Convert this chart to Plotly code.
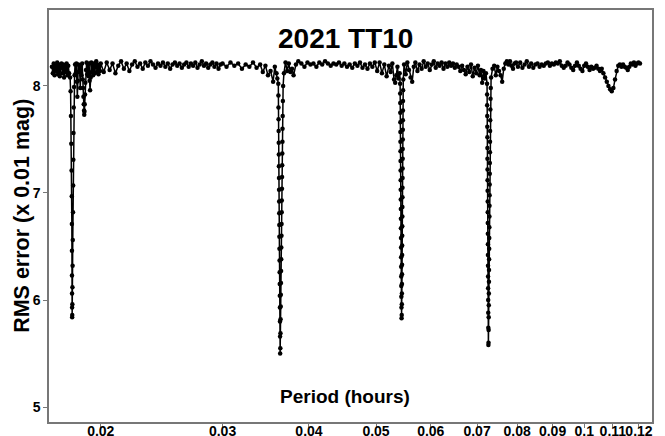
import plotly.graph_objects as go

# ---------------- data (period in hours, RMS error in 0.01 mag) ----------------
seg1_period = [0.01700, 0.01705, 0.01710, 0.01715, 0.01720, 0.01725, 0.01730, 0.01735, 0.01740, 0.01745,
               0.01750, 0.01755, 0.01760, 0.01765, 0.01770, 0.01775, 0.01780, 0.01785, 0.01790, 0.01795, 0.01800]
seg1_rms = [8.18, 8.12, 8.21, 8.10, 8.19, 8.14, 8.22, 8.11, 8.20, 8.09,
            8.17, 8.21, 8.12, 8.20, 8.08, 8.18, 8.13, 8.21, 8.10, 8.19, 8.12]

dip1_period = [0.01806, 0.01809, 0.01811, 0.01813, 0.01815, 0.01816, 0.018165, 0.01817, 0.018173, 0.018176,
               0.018179, 0.018183, 0.018188, 0.018195, 0.01820, 0.01821, 0.01822, 0.018235, 0.018245, 0.018255,
               0.018265, 0.01828, 0.01830, 0.01833]
dip1_rms = [8.08, 7.95, 7.72, 7.46, 7.21, 6.97, 6.71, 6.46, 6.23, 6.06,
            5.93, 5.84, 5.86, 5.96, 6.12, 6.32, 6.56, 6.82, 7.07, 7.31,
            7.56, 7.80, 7.99, 8.10]

seg2_period = [0.01836, 0.01840, 0.01844, 0.01847, 0.01850, 0.01853, 0.01856, 0.01860, 0.01864, 0.01868,
               0.01872, 0.01876, 0.01880, 0.01884, 0.01886, 0.01888, 0.01890, 0.01892, 0.01893, 0.01894,
               0.01896, 0.01898, 0.01900, 0.01904, 0.01908, 0.01912, 0.01916, 0.01920, 0.01924, 0.01927,
               0.01930, 0.01934, 0.01938, 0.01942, 0.01946, 0.01950, 0.01955, 0.01960, 0.01965, 0.01970,
               0.01975, 0.01980, 0.01985, 0.01990, 0.01995, 0.02000]
seg2_rms = [8.20, 8.12, 8.21, 8.04, 7.90, 8.05, 8.20, 8.13, 8.19, 7.98,
            8.18, 8.10, 8.21, 8.06, 7.98, 7.90, 7.83, 7.77, 7.73, 7.76,
            7.83, 7.92, 8.03, 8.15, 8.22, 8.11, 8.20, 8.09, 8.21, 8.05,
            7.96, 8.08, 8.22, 8.13, 8.19, 8.10, 8.21, 8.12, 8.18, 8.23,
            8.13, 8.20, 8.11, 8.19, 8.14, 8.21]

seg3_period = [0.0202, 0.0204, 0.0206, 0.0208, 0.0210, 0.0212, 0.0214, 0.0216, 0.0218, 0.0220,
               0.0222, 0.0224, 0.0226, 0.0228, 0.0230, 0.0232, 0.0234, 0.0236, 0.0238, 0.0240,
               0.0242, 0.0244, 0.0246, 0.0248, 0.0250, 0.0252, 0.0254, 0.0256, 0.0258, 0.0260,
               0.0262, 0.0264, 0.0266, 0.0268, 0.0270, 0.0272, 0.0274, 0.0276, 0.0278, 0.0280,
               0.0282, 0.0284, 0.0286, 0.0288, 0.0290, 0.0292, 0.0294, 0.0296, 0.0298, 0.0300,
               0.0304, 0.0308, 0.0312, 0.0316, 0.0320, 0.0324, 0.0328, 0.0332, 0.0336, 0.0340,
               0.0343, 0.0346, 0.0349, 0.0352, 0.0355, 0.0357, 0.0359, 0.0360]
seg3_rms = [8.13, 8.22, 8.15, 8.21, 8.12, 8.19, 8.23, 8.16, 8.21, 8.14,
            8.20, 8.23, 8.18, 8.21, 8.16, 8.22, 8.19, 8.23, 8.20, 8.17,
            8.21, 8.19, 8.22, 8.18, 8.21, 8.16, 8.20, 8.22, 8.19, 8.21,
            8.17, 8.20, 8.22, 8.18, 8.21, 8.19, 8.22, 8.17, 8.20, 8.23,
            8.19, 8.21, 8.17, 8.20, 8.22, 8.18, 8.21, 8.16, 8.20, 8.21,
            8.18, 8.22, 8.19, 8.21, 8.16, 8.20, 8.18, 8.22, 8.17, 8.20,
            8.13, 8.19, 8.10, 8.14, 8.04, 8.18, 8.12, 8.07]

dip2_period = [0.03612, 0.03613, 0.03614, 0.03615, 0.03616, 0.03617, 0.03618, 0.03619, 0.03620, 0.03621,
               0.03622, 0.03623, 0.03624, 0.03625, 0.03626, 0.03627, 0.03628, 0.03629, 0.03630, 0.03631,
               0.03632, 0.03633, 0.03634,
               0.03636, 0.03638, 0.03639, 0.03641, 0.03642, 0.03644, 0.03645, 0.03647, 0.03648, 0.03650,
               0.03651, 0.03653, 0.03654, 0.03656, 0.03657, 0.03659, 0.03660, 0.03662, 0.03663, 0.03665,
               0.03667, 0.03670]
dip2_rms = [8.02, 7.91, 7.80, 7.69, 7.58, 7.47, 7.36, 7.25, 7.14, 7.03,
            6.92, 6.81, 6.70, 6.59, 6.48, 6.37, 6.26, 6.15, 6.04, 5.93,
            5.80, 5.66, 5.50,
            5.55, 5.69, 5.82, 5.94, 6.05, 6.16, 6.27, 6.38, 6.49, 6.60,
            6.71, 6.82, 6.93, 7.04, 7.15, 7.26, 7.37, 7.48, 7.60, 7.72,
            7.86, 8.00]

seg4_period = [0.03680, 0.0370, 0.0372, 0.0374, 0.0376, 0.0378, 0.0380, 0.0383, 0.0386, 0.0390,
               0.0394, 0.0398, 0.0402, 0.0406, 0.0410, 0.0414, 0.0418, 0.0422, 0.0426, 0.0430,
               0.0434, 0.0438, 0.0442, 0.0446, 0.0450, 0.0454, 0.0458, 0.0462, 0.0466, 0.0470,
               0.0474, 0.0478, 0.0482, 0.0486, 0.0490, 0.0494, 0.0498, 0.0502, 0.0506, 0.0510,
               0.0514, 0.0518, 0.0522, 0.0525, 0.0528, 0.0531, 0.0533, 0.0535, 0.0537, 0.0539,
               0.0541]
seg4_rms = [8.12, 8.22, 8.14, 8.21, 8.13, 8.16, 8.10, 8.20, 8.23, 8.21,
            8.18, 8.22, 8.20, 8.21, 8.18, 8.22, 8.20, 8.23, 8.21, 8.19,
            8.21, 8.20, 8.22, 8.19, 8.21, 8.18, 8.20, 8.17, 8.21, 8.19,
            8.22, 8.17, 8.20, 8.16, 8.21, 8.18, 8.22, 8.14, 8.22, 8.12,
            8.20, 8.09, 8.19, 8.13, 8.21, 8.06, 8.03, 8.10, 8.18, 8.07,
            8.12]

dip3_period = [0.05418, 0.05419, 0.05420, 0.05421, 0.05422, 0.05423, 0.05424, 0.05425, 0.05426, 0.05427,
               0.05428, 0.05429, 0.05430, 0.05431, 0.05432, 0.05433, 0.05434, 0.05435, 0.05436, 0.05437,
               0.05438, 0.05439, 0.05440, 0.05442, 0.05444,
               0.05447, 0.05449, 0.05450, 0.05451, 0.05452, 0.05453, 0.05454, 0.05455, 0.05456, 0.05457,
               0.05458, 0.05459, 0.05460, 0.05461, 0.05462, 0.05463, 0.05464, 0.05465, 0.05466, 0.05467,
               0.05468, 0.05469, 0.05470, 0.05472, 0.05475]
dip3_rms = [8.02, 7.93, 7.84, 7.75, 7.66, 7.57, 7.48, 7.39, 7.30, 7.21,
            7.12, 7.03, 6.94, 6.85, 6.76, 6.67, 6.58, 6.49, 6.40, 6.31,
            6.22, 6.13, 6.03, 5.93, 5.83,
            5.86, 5.96, 6.06, 6.15, 6.24, 6.33, 6.42, 6.51, 6.60, 6.69,
            6.78, 6.87, 6.96, 7.05, 7.14, 7.23, 7.32, 7.41, 7.50, 7.59,
            7.68, 7.77, 7.86, 7.96, 8.06]

seg5_period = [0.0549, 0.0552, 0.0555, 0.0558, 0.0561, 0.0564, 0.0567, 0.0570, 0.0574, 0.0578,
               0.0582, 0.0586, 0.0590, 0.0594, 0.0598, 0.0602, 0.0606, 0.0610, 0.0614, 0.0618,
               0.0622, 0.0626, 0.0630, 0.0634, 0.0638, 0.0642, 0.0646, 0.0650, 0.0654, 0.0658,
               0.0662, 0.0666, 0.0670, 0.0674, 0.0678, 0.0682, 0.0686, 0.0690, 0.0694, 0.0698,
               0.0702, 0.0706, 0.0709, 0.0712, 0.0715, 0.0718, 0.0721]
seg5_rms = [8.20, 8.11, 8.22, 8.15, 8.08, 8.04, 8.18, 8.22, 8.14, 8.20,
            8.16, 8.23, 8.18, 8.21, 8.15, 8.20, 8.23, 8.17, 8.21, 8.19,
            8.22, 8.16, 8.21, 8.18, 8.22, 8.19, 8.21, 8.17, 8.20, 8.18,
            8.14, 8.19, 8.15, 8.11, 8.18, 8.13, 8.20, 8.09, 8.17, 8.12,
            8.19, 8.10, 8.15, 8.03, 8.14, 8.07, 8.12]

dip4_period = [0.07236, 0.07238, 0.07239, 0.07241, 0.07242, 0.07244, 0.07245, 0.07246, 0.07248, 0.07249,
               0.07250, 0.07252, 0.07253, 0.07254, 0.07256, 0.07257, 0.07258, 0.07260, 0.07261, 0.07262,
               0.07264, 0.07265, 0.07267, 0.07269,
               0.07272, 0.07274, 0.07276, 0.07278, 0.07280, 0.07282, 0.07284, 0.07286, 0.07288, 0.07290,
               0.07292, 0.07294, 0.07296, 0.07298, 0.07300, 0.07302, 0.07304, 0.07306, 0.07308, 0.07310,
               0.07313, 0.07316, 0.07320, 0.07326, 0.07334]
dip4_rms = [8.02, 7.92, 7.82, 7.72, 7.62, 7.52, 7.42, 7.32, 7.22, 7.12,
            7.02, 6.92, 6.82, 6.72, 6.62, 6.52, 6.42, 6.32, 6.22, 6.11,
            6.00, 5.88, 5.74, 5.58,
            5.60, 5.72, 5.84, 5.95, 6.06, 6.17, 6.28, 6.38, 6.48, 6.58,
            6.68, 6.78, 6.88, 6.98, 7.08, 7.18, 7.28, 7.38, 7.48, 7.58,
            7.68, 7.78, 7.88, 7.98, 8.08]

seg6_period = [0.0737, 0.0741, 0.0745, 0.0749, 0.0753, 0.0757, 0.0761, 0.0765, 0.0769, 0.0773,
               0.0777, 0.0781, 0.0785, 0.0789, 0.0793, 0.0797, 0.0802, 0.0808, 0.0814, 0.0820,
               0.0826, 0.0832, 0.0838, 0.0844, 0.0850, 0.0856, 0.0862, 0.0868, 0.0874, 0.0880,
               0.0886, 0.0892, 0.0898, 0.0904, 0.0910, 0.0916, 0.0922, 0.0928, 0.0934, 0.0940,
               0.0946, 0.0952, 0.0958, 0.0964, 0.0970, 0.0976, 0.0982, 0.0988, 0.0994, 0.1000,
               0.1006, 0.1012, 0.1018, 0.1024, 0.1030, 0.1036, 0.1042, 0.1048, 0.1054, 0.1060,
               0.1066, 0.1072, 0.1078, 0.1084, 0.1090, 0.1096, 0.1102, 0.1108, 0.1114, 0.1120,
               0.1126, 0.1132, 0.1138, 0.1144, 0.1150, 0.1156, 0.1162, 0.1168, 0.1174, 0.1180,
               0.1186, 0.1192, 0.1198, 0.1204]
seg6_rms = [8.16, 8.19, 8.10, 8.18, 8.14, 8.10, 8.04, 8.16, 8.21, 8.23,
            8.20, 8.23, 8.19, 8.16, 8.21, 8.22, 8.18, 8.22, 8.17, 8.20,
            8.23, 8.18, 8.21, 8.17, 8.20, 8.21, 8.18, 8.20, 8.19, 8.21,
            8.22, 8.19, 8.21, 8.20, 8.22, 8.21, 8.23, 8.19, 8.17, 8.19,
            8.22, 8.20, 8.17, 8.15, 8.19, 8.22, 8.19, 8.16, 8.14, 8.19,
            8.21, 8.18, 8.15, 8.18, 8.16, 8.17, 8.19, 8.16, 8.14, 8.16,
            8.12, 8.08, 8.04, 8.00, 7.97, 7.95, 7.98, 8.06, 8.14, 8.19,
            8.20, 8.18, 8.20, 8.18, 8.17, 8.15, 8.18, 8.21, 8.20, 8.22,
            8.19, 8.21, 8.22, 8.21]

tick_vals = [0.02, 0.03, 0.04, 0.05, 0.06, 0.07, 0.08, 0.09, 0.1, 0.11, 0.12]
tick_text = ["0.02", "0.03", "0.04", "0.05", "0.06", "0.07", "0.08", "0.09", "0.1", "0.11", "0.12"]
y_ticks = [5, 6, 7, 8]

period = (seg1_period + dip1_period + seg2_period + seg3_period + dip2_period + seg4_period
          + dip3_period + seg5_period + dip4_period + seg6_period)
rms = (seg1_rms + dip1_rms + seg2_rms + seg3_rms + dip2_rms + seg4_rms
       + dip3_rms + seg5_rms + dip4_rms + seg6_rms)

FONT = "Liberation Sans, Arial, sans-serif"

fig = go.Figure(go.Scatter(
    x=period, y=rms, mode="lines+markers",
    line=dict(color="black", width=1.5),
    marker=dict(color="black", size=4.5),
    hoverinfo="x+y", showlegend=False,
))

fig.update_layout(
    width=665, height=436,
    margin=dict(l=49, r=13, t=10, b=14, autoexpand=False),
    paper_bgcolor="white", plot_bgcolor="white",
    font=dict(family=FONT, color="black"),
    annotations=[
        dict(text="<b>2021 TT10</b>", xref="paper", yref="paper", x=0.491, y=0.932,
             xanchor="center", yanchor="middle", showarrow=False,
             font=dict(size=28, family=FONT, color="black")),
        dict(text="<b>Period (hours)</b>", xref="paper", yref="paper", x=0.491, y=0.061,
             xanchor="center", yanchor="middle", showarrow=False,
             font=dict(size=19, family=FONT, color="black")),
        dict(text="<b>RMS error (x 0.01 mag)</b>", xref="paper", yref="paper", x=-0.045, y=0.50,
             xanchor="center", yanchor="middle", showarrow=False, textangle=-90,
             font=dict(size=21.5, family=FONT, color="black")),
    ],
)

fig.update_xaxes(
    type="log", range=[-1.7738, -0.9020],
    tickvals=tick_vals, ticktext=tick_text, tickangle=0, automargin=False,
    ticklabelstandoff=-9,
    tickfont=dict(size=14, family=FONT, color="black", weight="bold"),
    ticks="outside", ticklen=4, tickcolor="#777", tickwidth=1,
    showline=True, linecolor="#777", linewidth=1.5, mirror=True,
    showgrid=False, zeroline=False,
)
fig.update_yaxes(
    range=[4.86, 8.71], automargin=False,
    tickvals=y_ticks, ticktext=[str(v) for v in y_ticks],
    tickfont=dict(size=14, family=FONT, color="black", weight="bold"),
    ticks="outside", ticklen=4, tickcolor="#777", tickwidth=1,
    showline=True, linecolor="#777", linewidth=1.5, mirror=True,
    showgrid=False, zeroline=False,
)

fig.write_html("out.html")
